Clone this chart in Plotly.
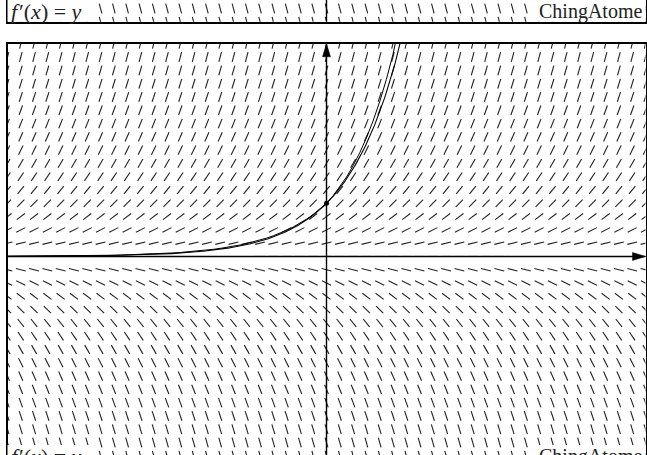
import numpy as np
import plotly.graph_objects as go

# slope field f'(x) = y, grid of short segments every quarter unit
X_GRID = np.arange(-6, 6.001, 0.25)
Y_GRID = np.arange(-4, 4.001, 0.25)
SEG_LEN = 0.19

# solution through (0, 1) and a step-by-step approximation of it
CURVE_X = np.linspace(-6, 1.5, 400)
STEP = 0.125
POINT = (0, 1)

LABEL_LEFT = "<i>f</i>\u200a\u2032(<i>x</i>) = <i>y</i>"
LABEL_RIGHT = "ChingAtome"

W, H = 647, 455
LEFT_PX, RIGHT_PX = 7.5, 645.5
TOP_PX = 43.8          # top of main panel
STRIP_BOTTOM_PX = 21.7  # bottom of the previous panel seen at the top
PPU = (RIGHT_PX - LEFT_PX) / 12.0


def segments(xs, ys):
    sx, sy = [], []
    for y in ys:
        for x in xs:
            m = y
            n = np.hypot(1, m)
            dx, dy = SEG_LEN / 2 / n, SEG_LEN / 2 * m / n
            sx += [x - dx, x + dx, None]
            sy += [y - dy, y + dy, None]
    return sx, sy


def approx_solution(h):
    # implicit steps from (0, 1) to the right and to the left
    xr, yr = [0.0], [1.0]
    while xr[-1] < 1.5:
        xr.append(xr[-1] + h)
        yr.append(yr[-1] / (1 - h))
    xl, yl = [], []
    x, y = 0.0, 1.0
    while x > -6:
        x -= h
        y = y / (1 + h)
        xl.append(x)
        yl.append(y)
    return xl[::-1] + xr, yl[::-1] + yr


fig = go.Figure()

seg_x, seg_y = segments(X_GRID, Y_GRID)
seg_style = dict(mode="lines", line=dict(color="#222", width=1.1),
                 hoverinfo="skip", showlegend=False)

# main panel
fig.add_trace(go.Scatter(x=seg_x, y=seg_y, xaxis="x", yaxis="y", **seg_style))
# previous panel (only its bottom edge is visible)
fig.add_trace(go.Scatter(x=seg_x, y=seg_y, xaxis="x2", yaxis="y2", **seg_style))

axis_style = dict(mode="lines", line=dict(color="black", width=1.4),
                  hoverinfo="skip", showlegend=False)
fig.add_trace(go.Scatter(x=[-6, 6], y=[0, 0], **axis_style))
fig.add_trace(go.Scatter(x=[0, 0], y=[-4, 4], **axis_style))
fig.add_trace(go.Scatter(x=[0, 0], y=[-4, 4], xaxis="x2", yaxis="y2", **axis_style))

# arrow heads (sizes in pixels converted to units)
alen, aw = 13 / PPU, 4 / PPU
head = dict(fill="toself", fillcolor="black", mode="lines",
            line=dict(color="black", width=0.5), hoverinfo="skip", showlegend=False)
fig.add_trace(go.Scatter(x=[6, 6 - alen, 6 - alen, 6], y=[0, aw, -aw, 0], **head))
fig.add_trace(go.Scatter(x=[0, aw, -aw, 0], y=[4, 4 - alen, 4 - alen, 4], **head))

# curves
fig.add_trace(go.Scatter(x=CURVE_X, y=np.exp(CURVE_X), mode="lines",
                         line=dict(color="black", width=1.1),
                         hoverinfo="skip", showlegend=False))
ax_, ay_ = approx_solution(STEP)
fig.add_trace(go.Scatter(x=ax_, y=ay_, mode="lines",
                         line=dict(color="black", width=1.0),
                         hoverinfo="skip", showlegend=False))
fig.add_trace(go.Scatter(x=[POINT[0]], y=[POINT[1]], mode="markers",
                         marker=dict(color="black", size=5),
                         hoverinfo="skip", showlegend=False))


def px_y(p):
    return 1 - p / H


def px_x(p):
    return p / W


# white label boxes + labels (top strip and bottom of main panel)
shapes = []
annotations = []
for box_top, box_bot, text_mid in [(-5, STRIP_BOTTOM_PX, 11.5), (445, 470, 456.5)]:
    shapes.append(dict(type="rect", xref="paper", yref="paper",
                       x0=px_x(LEFT_PX), x1=px_x(95), y0=px_y(box_bot), y1=px_y(box_top),
                       fillcolor="white", line=dict(width=0), layer="above"))
    shapes.append(dict(type="rect", xref="paper", yref="paper",
                       x0=px_x(535), x1=px_x(RIGHT_PX), y0=px_y(box_bot), y1=px_y(box_top),
                       fillcolor="white", line=dict(width=0), layer="above"))
    annotations.append(dict(text=LABEL_LEFT, xref="paper", yref="paper",
                            x=px_x(9), y=px_y(text_mid), xanchor="left", yanchor="middle",
                            showarrow=False,
                            font=dict(family="Liberation Serif", size=22, color="#222")))
    annotations.append(dict(text=LABEL_RIGHT, xref="paper", yref="paper",
                            x=px_x(644), y=px_y(text_mid), xanchor="right", yanchor="middle",
                            showarrow=False,
                            font=dict(family="Liberation Serif", size=20, color="#222")))

frame = dict(showgrid=False, zeroline=False, showticklabels=False, ticks="",
             showline=True, mirror=True, linecolor="black", linewidth=1.6)
strip_x = dict(frame, mirror=False)

fig.update_layout(
    width=W, height=H,
    margin=dict(l=0, r=0, t=0, b=0),
    paper_bgcolor="white", plot_bgcolor="white",
    xaxis=dict(domain=[px_x(LEFT_PX), px_x(RIGHT_PX)], range=[-6, 6], anchor="y", **frame),
    yaxis=dict(domain=[0, px_y(TOP_PX)], range=[4 - (H - TOP_PX) / PPU, 4], anchor="x", **frame),
    xaxis2=dict(domain=[px_x(LEFT_PX), px_x(RIGHT_PX)], range=[-6, 6], anchor="y2", **strip_x),
    yaxis2=dict(domain=[px_y(STRIP_BOTTOM_PX), 1], range=[-4, -4 + STRIP_BOTTOM_PX / PPU],
                anchor="x2", **frame),
    shapes=shapes,
    annotations=annotations,
)

fig.write_html("out.html", config={"displayModeBar": False},
               post_script="document.body.style.margin='0';")
